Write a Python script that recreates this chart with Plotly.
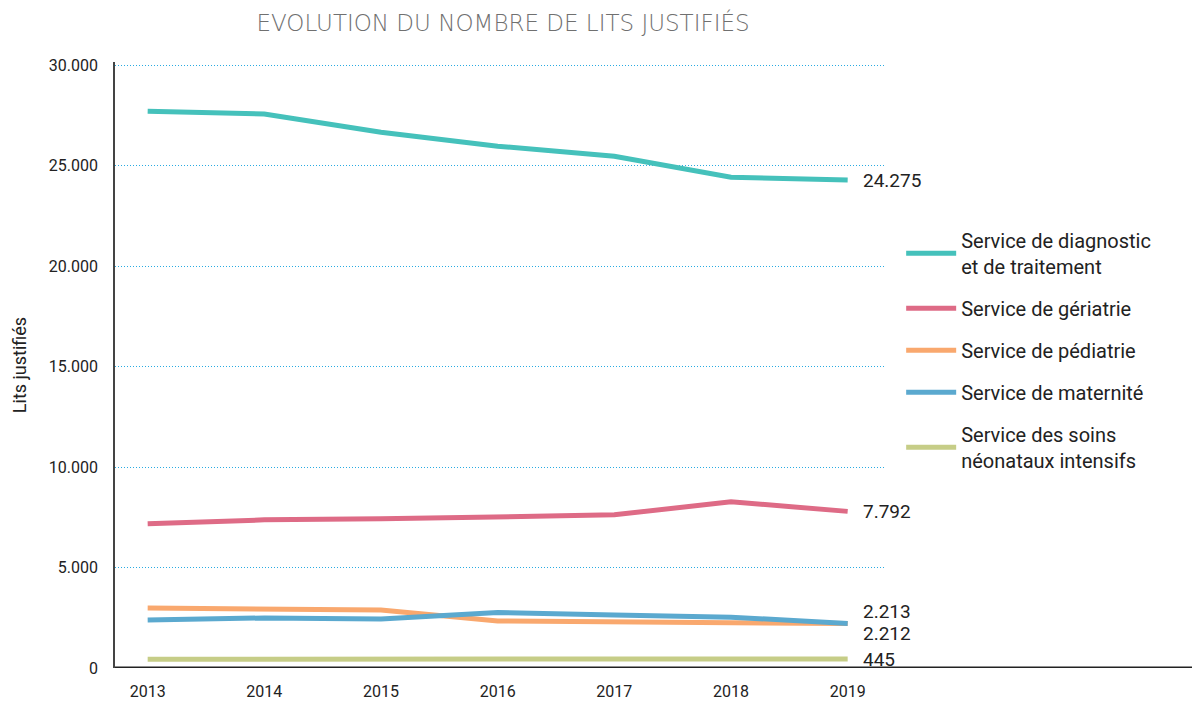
import plotly.graph_objects as go

years = [2013, 2014, 2015, 2016, 2017, 2018, 2019]
diagnostic = [27700, 27560, 26660, 25960, 25460, 24420, 24275]
geriatrie = [7180, 7370, 7420, 7520, 7620, 8270, 7792]
pediatrie = [2990, 2940, 2880, 2340, 2290, 2240, 2212]
maternite = [2390, 2490, 2440, 2760, 2640, 2530, 2213]
soins = [440, 445, 455, 450, 450, 450, 445]

names = ["Service de diagnostic<br>et de traitement", "Service de gériatrie",
         "Service de pédiatrie", "Service de maternité",
         "Service des soins<br>néonataux intensifs"]
series = [diagnostic, geriatrie, pediatrie, maternite, soins]
colors = ["#45c1bb", "#de6b86", "#f9a86e", "#5ba9cf", "#c6cd87"]

end_labels = ["24.275", "7.792", "2.212", "2.213", "445"]
end_shift = [0, 0, -10, 12, 0]

y_ticks = [0, 5000, 10000, 15000, 20000, 25000, 30000]
y_ticktext = ["0", "5.000", "10.000", "15.000", "20.000", "25.000", "30.000"]

FONT = "Roboto, Liberation Sans, sans-serif"

fig = go.Figure()
for i, (name, vals, col) in enumerate(zip(names, series, colors)):
    fig.add_trace(go.Scatter(x=years, y=vals, name=name, mode="lines", legendgroup=f"g{i}",
                             line=dict(color=col, width=5)))

for vals, lab, sh in zip(series, end_labels, end_shift):
    fig.add_annotation(x=years[-1], y=vals[-1], text=lab, showarrow=False,
                       xanchor="left", xshift=13, yshift=sh,
                       font=dict(size=19, color="#222", family=FONT))

# extended bottom axis line
fig.add_shape(type="line", xref="paper", yref="y", x0=0, x1=1.45, y0=0, y1=0,
              line=dict(color="#222", width=3))

fig.update_layout(
    width=1192, height=702,
    paper_bgcolor="white", plot_bgcolor="white",
    margin=dict(l=115, r=307, t=62, b=34, autoexpand=False),
    title=dict(text="EVOLUTION DU NOMBRE DE LITS JUSTIFIÉS", x=0.422, xanchor="center",
               y=0.968, yanchor="middle",
               font=dict(size=23, color="#707070", family="DejaVu Sans, sans-serif", weight=300)),
    showlegend=True,
    legend=dict(x=1.021, y=0.738, xanchor="left", yanchor="top",
                font=dict(size=20, color="#222", family=FONT),
                tracegroupgap=13, itemwidth=50, bgcolor="rgba(0,0,0,0)"),
    xaxis=dict(range=[2012.72, 2019.32], tickvals=years, ticktext=[str(y) for y in years],
               showgrid=False, zeroline=False, showline=False, ticks="",
               ticklabelstandoff=12,
               tickfont=dict(size=16, color="#222", family=FONT)),
    yaxis=dict(range=[0, 30150], tickvals=y_ticks, ticktext=y_ticktext,
               showgrid=True, gridcolor="#29abe2", griddash="1px,2px", gridwidth=1,
               zeroline=False, showline=True, linecolor="#444", linewidth=1.5,
               ticks="", ticklabelstandoff=12,
               tickfont=dict(size=16, color="#222", family=FONT),
               title=dict(text="Lits justifiés", standoff=18,
                          font=dict(size=18, color="#222", family=FONT))),
)

fig.write_html("out.html", config={"displayModeBar": False},
               post_script="document.body.style.margin='0';")
